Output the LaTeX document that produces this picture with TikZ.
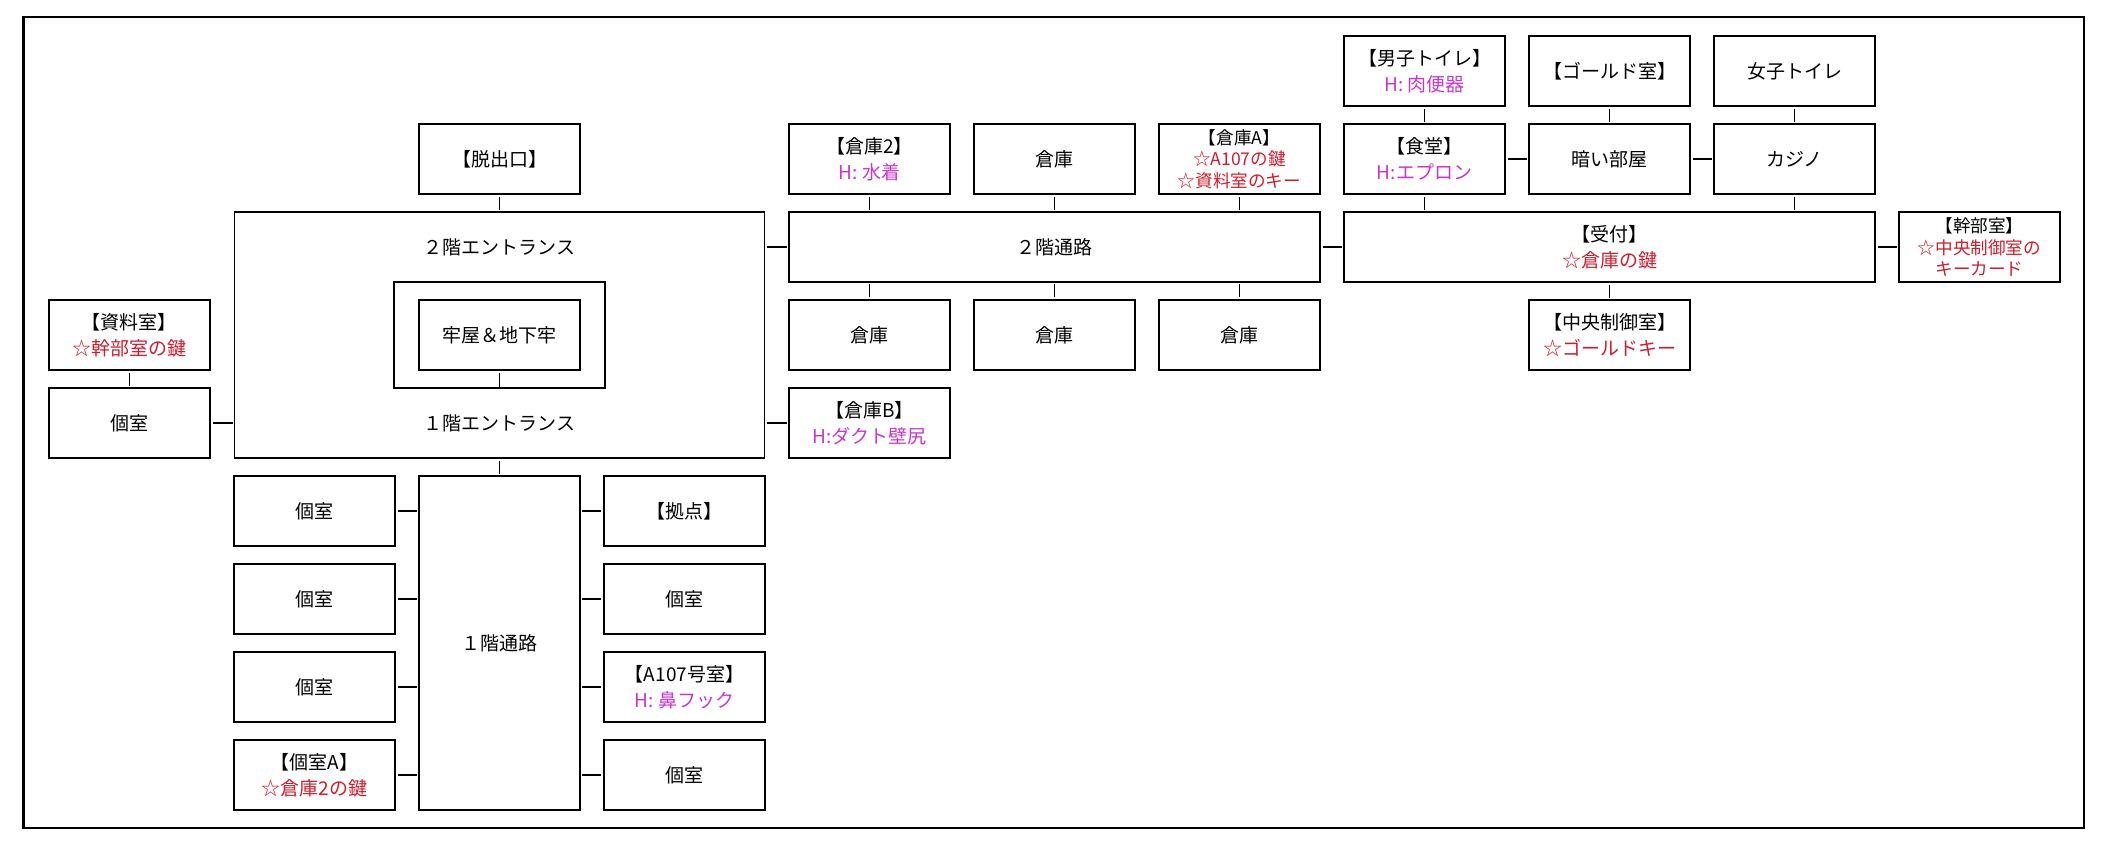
\documentclass[tikz,border=0pt]{standalone}
\usepackage{fontspec}
\usepackage{tikz}
\usetikzlibrary{positioning}

\newfontfamily\jpfont{Noto Sans CJK JP}

\definecolor{keyred}{RGB}{205,30,45}
\definecolor{hintpink}{RGB}{200,55,205}

\newcommand{\keyitem}[1]{\textcolor{keyred}{#1}}
\newcommand{\hintitem}[1]{\textcolor{hintpink}{#1}}

\begin{document}
\begin{tikzpicture}[x=92.5pt, y=-44pt,
    room/.style={draw, line width=0.55pt, minimum width=80.5pt, minimum height=35pt,
        inner sep=0pt, align=center, font=\jpfont\fontsize{9.5}{13}\selectfont},
    smallroom/.style={room, font=\jpfont\fontsize{8.8}{10.8}\selectfont},
    roomtext/.style={inner sep=0pt, font=\jpfont\fontsize{9.5}{13}\selectfont},
    link/.style={line width=0.9pt, shorten <=1pt, shorten >=0.5pt}]

    \useasboundingbox (-0.7,-0.8068) rectangle (10.7,8.8182);
    \draw[line width=1.1pt] (-0.573,-0.610) rectangle (10.565,8.602);

    % entrance block
    \node[room] (exit) at (2,1) {【脱出口】};
    \node[room, minimum width=265pt, minimum height=123pt] (ent) at (2,3) {};
    \node[roomtext] (ent2f) at (2,2) {２階エントランス};
    \node[roomtext] (ent1f) at (2,4) {１階エントランス};
    \node[room, minimum width=105.5pt, minimum height=53pt] (jailwall) at (2,3) {};
    \node[room] (jail) at (2,3) {牢屋＆地下牢};

    \node[room] (shiryo) at (0,3) {【資料室】\\\keyitem{☆幹部室の鍵}};
    \node[room] (kosL) at (0,4) {個室};

    % second floor corridor
    \node[room] (souko2) at (4,1) {【倉庫2】\\\hintitem{H: 水着}};
    \node[room] (soukoT) at (5,1) {倉庫};
    \node[smallroom] (soukoA) at (6,1) {【倉庫A】\\\keyitem{☆A107の鍵}\\\keyitem{☆資料室のキー}};
    \node[room, minimum width=265.5pt] (corr2) at (5,2) {２階通路};
    \foreach \i in {4,5,6}
        \node[room] (soukoD\i) at (\i,3) {倉庫};
    \node[room] (soukoB) at (4,4) {【倉庫B】\\\hintitem{H:ダクト壁尻}};

    % reception side
    \node[room] (mens) at (7,0) {【男子トイレ】\\\hintitem{H: 肉便器}};
    \node[room] (gold) at (8,0) {【ゴールド室】};
    \node[room] (womens) at (9,0) {女子トイレ};
    \node[room] (shokudo) at (7,1) {【食堂】\\\hintitem{H:エプロン}};
    \node[room] (dark) at (8,1) {暗い部屋};
    \node[room] (casino) at (9,1) {カジノ};
    \node[room, minimum width=265.5pt] (uketsuke) at (8,2) {【受付】\\\keyitem{☆倉庫の鍵}};
    \node[smallroom] (kanbu) at (10,2) {【幹部室】\\\keyitem{☆中央制御室の}\\\keyitem{キーカード}};
    \node[room] (control) at (8,3) {【中央制御室】\\\keyitem{☆ゴールドキー}};

    % first floor corridor
    \node[room, minimum height=167pt] (corr1) at (2,6.5) {１階通路};
    \node[room] (L5) at (1,5) {個室};
    \node[room] (L6) at (1,6) {個室};
    \node[room] (L7) at (1,7) {個室};
    \node[room] (L8) at (1,8) {【個室A】\\\keyitem{☆倉庫2の鍵}};
    \node[room] (R5) at (3,5) {【拠点】};
    \node[room] (R6) at (3,6) {個室};
    \node[room] (R7) at (3,7) {【A107号室】\\\hintitem{H: 鼻フック}};
    \node[room] (R8) at (3,8) {個室};

    % connectors
    \draw[link] (exit) -- (ent);
    \draw[link] (shiryo) -- (kosL);
    \draw[link] (kosL) -- (kosL -| ent.west);
    \draw[link] (ent.east |- corr2) -- (corr2);
    \draw[link] (ent.east |- soukoB) -- (soukoB);
    \draw[link] (jail) -- (jail |- jailwall.south);
    \draw[link] (ent) -- (corr1);
    \foreach \r in {5,...,8} {
        \draw[link] (L\r) -- (L\r -| corr1.west);
        \draw[link] (R\r) -- (R\r -| corr1.east);
    }

    \foreach \n in {souko2, soukoT, soukoA}
        \draw[link] (\n) -- (\n |- corr2.north);
    \foreach \i in {4,5,6}
        \draw[link] (soukoD\i) -- (soukoD\i |- corr2.south);
    \draw[link] (corr2) -- (uketsuke);
    \draw[link] (uketsuke) -- (kanbu);

    \draw[link] (mens) -- (shokudo);
    \draw[link] (gold) -- (dark);
    \draw[link] (womens) -- (casino);
    \draw[link] (shokudo) -- (dark);
    \draw[link] (dark) -- (casino);
    \draw[link] (shokudo) -- (shokudo |- uketsuke.north);
    \draw[link] (casino) -- (casino |- uketsuke.north);
    \draw[link] (uketsuke) -- (control);

\end{tikzpicture}
\end{document}
